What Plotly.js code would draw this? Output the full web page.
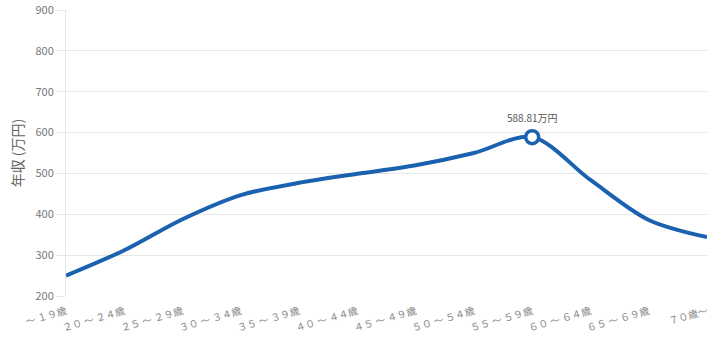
<!DOCTYPE html>
<html><head><meta charset="utf-8">
<script src="https://cdn.plot.ly/plotly-3.0.1.min.js"></script>
<style>html,body{margin:0;padding:0;background:#fff;}#chart{width:712px;height:338px;}</style>
</head><body><div id="chart"></div>
<script>
const categories = ["～ １９歳","２０ ～ ２４歳","２５ ～ ２９歳","３０ ～ ３４歳","３５ ～ ３９歳","４０ ～ ４４歳","４５ ～ ４９歳","５０ ～ ５４歳","５５ ～ ５９歳","６０ ～ ６４歳","６５ ～ ６９歳","７０歳～"];
const values = [250, 312, 388, 447, 477, 499, 520, 550, 588.81, 484, 386, 344];
const yTicks = [200, 300, 400, 500, 600, 700, 800, 900];
const peakLabel = "588.81万円";

const peakIdx = values.indexOf(Math.max(...values));
const blue = "#1a62b0";
const font = '"Noto Sans CJK JP", "Noto Sans", sans-serif';

Plotly.newPlot("chart", [
  {x: categories, y: values, type: "scatter", mode: "lines",
   line: {color: blue, width: 4, shape: "spline", smoothing: 0.9}, hoverinfo: "none"},
  {x: [categories[peakIdx]], y: [values[peakIdx]], type: "scatter", mode: "markers",
   marker: {size: 13, color: "#fff", line: {color: blue, width: 3.5}}, hoverinfo: "none"}
], {
  width: 712, height: 338,
  margin: {l: 66, r: 5, t: 10, b: 42},
  showlegend: false,
  paper_bgcolor: "#fff", plot_bgcolor: "#fff",
  font: {family: font, color: "#666", size: 11},
  xaxis: {type: "category", tickangle: -16, showgrid: false, zeroline: false,
    range: [0, categories.length - 1], showline: false, ticks: "",
    ticklabelstandoff: 7,
    tickfont: {size: 10, color: "#888"}, automargin: false},
  yaxis: {range: [200, 900], tickvals: yTicks, showgrid: true, gridcolor: "#e6e6e6", gridwidth: 1,
    zeroline: false, showline: true, linecolor: "#e6e6e6", ticks: "outside", ticklen: 9,
    tickcolor: "#e6e6e6", tickfont: {size: 11, color: "#777"}, automargin: false,
    title: {text: "年収 (万円)", font: {size: 14, color: "#666"}, standoff: 8}},
  annotations: [{x: categories[peakIdx], y: values[peakIdx], xref: "x", yref: "y",
    text: peakLabel, showarrow: false, yshift: 20, font: {size: 10, color: "#555"}}]
}, {staticPlot: true});
</script></body></html>
